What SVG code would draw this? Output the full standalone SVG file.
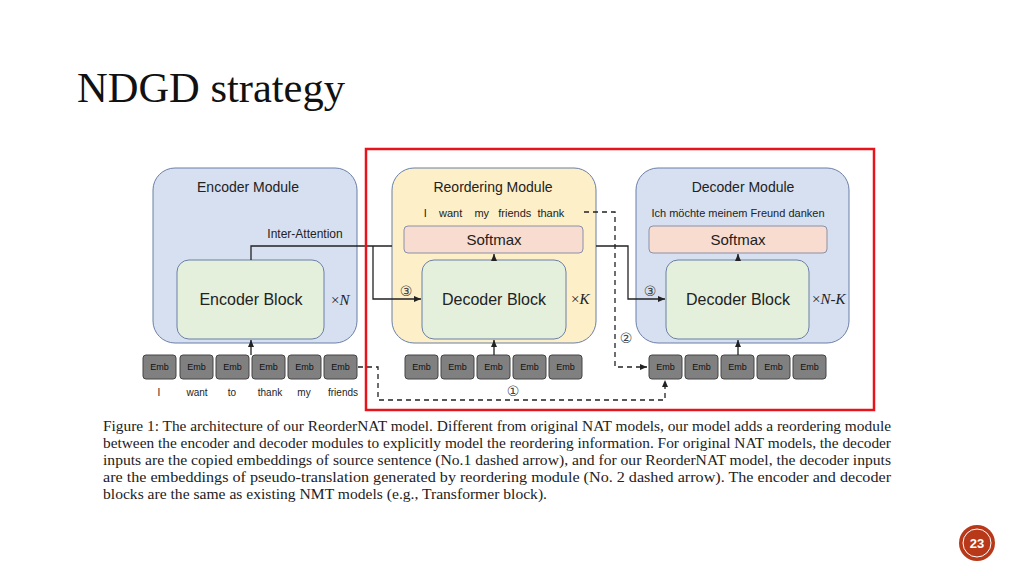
<svg xmlns="http://www.w3.org/2000/svg" width="1024" height="576" viewBox="0 0 1024 576">
<style>
.mod{stroke:#6b7fa8;stroke-width:1}
.blk{fill:#e4f0dc;stroke:#6b7fa8;stroke-width:1}
.sm{fill:#f8dccf;stroke:#8a90a8;stroke-width:1}
.emb{fill:#808080;stroke:#444;stroke-width:1}
.et{font-family:"Liberation Sans",Arial,sans-serif;font-size:9px;fill:#111;text-anchor:middle}
.t{font-family:"Liberation Sans",Arial,sans-serif;fill:#222;text-anchor:middle}
.c{font-family:"Liberation Serif","Times New Roman",serif;font-size:15px;fill:#222}
.ln{fill:none;stroke:#222;stroke-width:1.3}
.ds{fill:none;stroke:#222;stroke-width:1.3;stroke-dasharray:5,4}
</style>
<defs><marker id="a" markerWidth="8" markerHeight="8" refX="7" refY="4" orient="auto" markerUnits="userSpaceOnUse"><path d="M0,1 L7,4 L0,7z" fill="#222"/></marker></defs>
<rect width="1024" height="576" fill="#fff"/>
<text x="77" y="102" font-family="Liberation Serif,'Times New Roman',serif" font-size="42" fill="#111" textLength="268" lengthAdjust="spacingAndGlyphs">NDGD strategy</text>
<g id="encoder">
<rect class="mod" x="153" y="168" width="204" height="175" rx="22" fill="#d6e0f0"/>
<text class="t" x="248" y="192" font-size="14">Encoder Module</text>
<rect class="blk" x="177" y="260" width="147" height="79" rx="12"/>
<text class="t" x="251" y="305" font-size="16">Encoder Block</text>
<text x="331" y="305" font-family="Liberation Serif,serif" font-size="15" fill="#222">×<tspan font-style="italic">N</tspan></text>
<text class="t" x="305" y="238" font-size="12">Inter-Attention</text>
</g>
<g id="reorder">
<rect class="mod" x="392" y="168" width="204" height="175" rx="22" fill="#fdefc8"/>
<text class="t" x="493" y="192" font-size="14">Reordering Module</text>
<text class="t" x="494" y="217" font-size="11" xml:space="preserve">I    want    my   friends  thank</text>
<rect class="sm" x="404" y="226" width="179" height="27" rx="4"/>
<text class="t" x="494" y="245" font-size="15">Softmax</text>
<rect class="blk" x="422" y="260" width="144" height="79" rx="12"/>
<text class="t" x="494" y="305" font-size="16">Decoder Block</text>
<text x="571" y="304" font-family="Liberation Serif,serif" font-size="15" fill="#222">×<tspan font-style="italic">K</tspan></text>
</g>
<g id="decoder">
<rect class="mod" x="636" y="168" width="213" height="175" rx="22" fill="#d6e0f0"/>
<text class="t" x="743" y="192" font-size="14">Decoder Module</text>
<text class="t" x="738" y="217" font-size="11">Ich  möchte meinem Freund danken</text>
<rect class="sm" x="649" y="226" width="178" height="27" rx="4"/>
<text class="t" x="738" y="245" font-size="15">Softmax</text>
<rect class="blk" x="666" y="260" width="143" height="79" rx="12"/>
<text class="t" x="738" y="305" font-size="16">Decoder Block</text>
<text x="812" y="304" font-family="Liberation Serif,serif" font-size="15" fill="#222">×<tspan font-style="italic">N</tspan>-<tspan font-style="italic">K</tspan></text>
</g>
<g id="embs">
<g><rect class="emb" x="143" y="355" width="33" height="24" rx="3"/><text class="et" x="159.5" y="370">Emb</text>
<rect class="emb" x="180" y="355" width="33" height="24" rx="3"/><text class="et" x="196.5" y="370">Emb</text>
<rect class="emb" x="216" y="355" width="33" height="24" rx="3"/><text class="et" x="232.5" y="370">Emb</text>
<rect class="emb" x="252" y="355" width="33" height="24" rx="3"/><text class="et" x="268.5" y="370">Emb</text>
<rect class="emb" x="288" y="355" width="33" height="24" rx="3"/><text class="et" x="304.5" y="370">Emb</text>
<rect class="emb" x="324" y="355" width="33" height="24" rx="3"/><text class="et" x="340.5" y="370">Emb</text></g>
<g><rect class="emb" x="405" y="355" width="33" height="24" rx="3"/><text class="et" x="421.5" y="370">Emb</text>
<rect class="emb" x="441" y="355" width="33" height="24" rx="3"/><text class="et" x="457.5" y="370">Emb</text>
<rect class="emb" x="477" y="355" width="33" height="24" rx="3"/><text class="et" x="493.5" y="370">Emb</text>
<rect class="emb" x="513" y="355" width="33" height="24" rx="3"/><text class="et" x="529.5" y="370">Emb</text>
<rect class="emb" x="549" y="355" width="33" height="24" rx="3"/><text class="et" x="565.5" y="370">Emb</text></g>
<g><rect class="emb" x="649" y="355" width="33" height="24" rx="3"/><text class="et" x="665.5" y="370">Emb</text>
<rect class="emb" x="685" y="355" width="33" height="24" rx="3"/><text class="et" x="701.5" y="370">Emb</text>
<rect class="emb" x="721" y="355" width="33" height="24" rx="3"/><text class="et" x="737.5" y="370">Emb</text>
<rect class="emb" x="757" y="355" width="33" height="24" rx="3"/><text class="et" x="773.5" y="370">Emb</text>
<rect class="emb" x="793" y="355" width="33" height="24" rx="3"/><text class="et" x="809.5" y="370">Emb</text></g>
<g font-family="Liberation Sans,Arial,sans-serif" font-size="10" fill="#222" text-anchor="middle">
<text x="159" y="396">I</text><text x="197" y="396">want</text><text x="232" y="396">to</text><text x="270" y="396">thank</text><text x="304" y="396">my</text><text x="343" y="396">friends</text></g>
</g>
<g id="connectors">
<path class="ln" d="M251,355 V340" marker-end="url(#a)"/>
<path class="ln" d="M494,355 V340" marker-end="url(#a)"/>
<path class="ln" d="M738,355 V340" marker-end="url(#a)"/>
<path class="ln" d="M494,260 V254" marker-end="url(#a)"/>
<path class="ln" d="M738,260 V254" marker-end="url(#a)"/>
<path class="ln" d="M251,260 V246 H392"/>
<path class="ln" d="M373,246 V299 H421" marker-end="url(#a)"/>
<path class="ln" d="M596,246 H628 V299 H665" marker-end="url(#a)"/>
<path class="ds" d="M584,212 H615 V367 H647" marker-end="url(#a)"/>
<path class="ds" d="M358,367 H378 V400 H665 V380" marker-end="url(#a)"/>
<g font-family="DejaVu Sans,sans-serif" font-size="14" fill="#444" text-anchor="middle">
<text x="406" y="296">③</text><text x="650" y="296">③</text><text x="626" y="343">②</text><text x="513" y="396">①</text></g>
</g>
<rect x="366" y="149" width="508" height="261" fill="none" stroke="#e8141c" stroke-width="2.5"/>
<g class="c">
<text x="103" y="431" textLength="788" lengthAdjust="spacingAndGlyphs">Figure 1: The architecture of our ReorderNAT model. Different from original NAT models, our model adds a reordering module</text>
<text x="103" y="448" textLength="788" lengthAdjust="spacingAndGlyphs">between the encoder and decoder modules to explicitly model the reordering information. For original NAT models, the decoder</text>
<text x="103" y="465" textLength="788" lengthAdjust="spacingAndGlyphs">inputs are the copied embeddings of source sentence (No.1 dashed arrow), and for our ReorderNAT model, the decoder inputs</text>
<text x="103" y="482" textLength="788" lengthAdjust="spacingAndGlyphs">are the embeddings of pseudo-translation generated by reordering module (No. 2 dashed arrow). The encoder and decoder</text>
<text x="103" y="499" textLength="444" lengthAdjust="spacingAndGlyphs">blocks are the same as existing NMT models (e.g., Transformer block).</text>
</g>
<g id="page">
<circle cx="977" cy="543" r="18" fill="#b8391a"/>
<circle cx="977" cy="543" r="14" fill="none" stroke="#fff" stroke-width="1"/>
<text x="977" y="548" text-anchor="middle" font-family="Liberation Sans,Arial,sans-serif" font-size="13" font-weight="bold" fill="#fff">23</text>
</g>
</svg>
